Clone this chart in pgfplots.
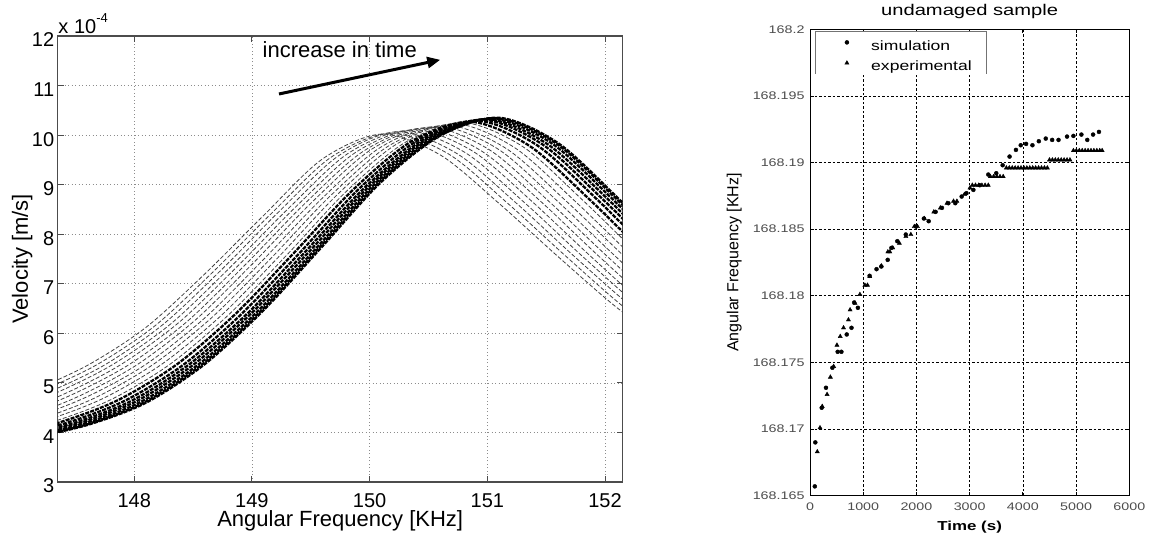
\documentclass[border=0pt]{standalone}
\usepackage{fontspec}
\setmainfont{Liberation Sans}
\newfontfamily\rfont[FakeStretch=1.3]{Liberation Sans}
\usepackage{pgfplots}
\usepackage{pgfplotstable}
\pgfplotsset{compat=1.18}
\usetikzlibrary{arrows.meta}
\pgfplotsset{mylegimg/.style={legend image code/.code={\path[draw=none, fill=none] (0bp,0bp) rectangle (56bp,7bp); \draw[##1, /tikz/only marks] plot coordinates {(31.7bp,3.5bp)};}}}

% right chart: frequency stored as df, f = 168 + df/1000 KHz
\pgfplotstableread{
t df
90 165.7
100 169.0
220 171.6
300 173.1
420 174.6
520 175.8
590 175.8
690 177.1
780 177.6
830 179.5
900 179.1
1120 181.5
1250 182.0
1340 182.2
1460 182.7
1530 183.6
1640 184.1
1800 184.6
1990 185.2
2140 185.8
2230 185.6
2360 186.3
2480 186.6
2600 186.95
2730 186.95
2850 187.45
2940 187.7
3070 187.95
3190 188.3
3350 189.1
3500 189.2
3620 189.8
3750 190.45
3870 190.95
3960 191.3
4060 191.4
4180 191.3
4300 191.6
4430 191.8
4550 191.7
4670 191.7
4830 191.95
4950 192.0
5100 192.1
5210 191.7
5320 192.1
5430 192.3
}\simdata

\pgfplotstableread{
t df
137 168.3
188 170.1
230 171.7
321 172.6
383 173.9
444 174.7
506 176.3
568 176.95
630 177.6
722 178.2
753 178.95
846 179.45
938 180.1
1031 180.8
1080 180.8
1123 181.45
1340 182.25
1463 183.3
1500 183.3
1556 183.6
1679 183.95
1802 184.45
1895 184.6
1960 185.2
2019 185.2
2150 185.8
2327 186.3
2450 186.6
2574 186.95
2697 187.1
2760 187.1
2900 187.6
3006 188.1
3050 188.3
3110 188.3
3170 188.3
3230 188.3
3290 188.3
3350 188.3
3390 188.95
3450 188.95
3510 188.95
3570 188.95
3630 188.95
3690 189.6
3745 189.6
3800 189.6
3855 189.6
3910 189.6
3965 189.6
4020 189.6
4075 189.6
4130 189.6
4185 189.6
4240 189.6
4295 189.6
4350 189.6
4405 189.6
4460 189.6
4500 190.2
4555 190.2
4610 190.2
4665 190.2
4720 190.2
4775 190.2
4830 190.2
4885 190.2
4950 190.9
5005 190.9
5060 190.9
5115 190.9
5170 190.9
5225 190.9
5280 190.9
5335 190.9
5390 190.9
5445 190.9
5490 190.9
}\expdata

\begin{document}
\begin{tikzpicture}
\useasboundingbox (0bp,0bp) rectangle (1156bp,-536bp);

%================ LEFT CHART =================
\begin{axis}[
  at={(57.7bp,-482bp)}, anchor=south west,
  width=565bp, height=446bp, scale only axis,
  clip mode=individual,
  xmin=147.35, xmax=152.15, ymin=3, ymax=12,
  xtick={148,149,150,151,152}, ytick={3,4,...,12},
  grid=major,
  grid style={black!45, dash pattern=on 1bp off 2.5bp, line width=0.7bp},
  axis line style={black!70, line width=1.5bp},
  tick style={black!70, line width=1bp},
  major tick length=6bp, tick align=inside,
  /pgf/number format/assume math mode=true,
  ticklabel style={font=\fontsize{20bp}{24bp}\selectfont},
  xticklabel style={anchor=base, yshift=-25bp},
  yticklabel style={yshift=-4bp},
  xlabel={Angular Frequency [KHz]},
  ylabel={Velocity [m/s]},
  every axis x label/.style={at={(axis description cs:0.5,0)}, anchor=base, yshift=-44.5bp, font=\fontsize{22bp}{26bp}\selectfont},
  every axis y label/.style={at={(axis description cs:-0.0526,0.5)}, rotate=90, anchor=base, font=\fontsize{22bp}{26bp}\selectfont},
  fan/.style={smooth, black!75, line width=0.8bp, dash pattern=on 4bp off 2bp},
  band/.style={smooth, black, line width=2.3bp, dash pattern=on 4bp off 1.2bp},
]
\addplot[fan] coordinates {(146.10,4.06)(146.60,4.36)(147.10,4.81)(147.60,5.35)(148.10,6.12)(148.60,7.20)(149.10,8.38)(149.60,9.52)(150.10,10.02)(150.60,9.60)(151.10,8.62)(151.60,7.55)(152.10,6.52)(152.60,5.66)};
\addplot[fan] coordinates {(146.17,4.05)(146.67,4.35)(147.17,4.80)(147.67,5.35)(148.17,6.14)(148.67,7.24)(149.17,8.43)(149.67,9.55)(150.17,10.04)(150.67,9.62)(151.17,8.63)(151.67,7.55)(152.17,6.51)(152.67,5.65)};
\addplot[fan] coordinates {(146.24,4.03)(146.74,4.33)(147.24,4.78)(147.74,5.35)(148.24,6.17)(148.74,7.28)(149.24,8.48)(149.74,9.59)(150.24,10.07)(150.74,9.63)(151.24,8.64)(151.74,7.55)(152.24,6.51)(152.74,5.64)};
\addplot[fan] coordinates {(146.31,4.02)(146.81,4.32)(147.31,4.77)(147.81,5.36)(148.31,6.19)(148.81,7.32)(149.31,8.52)(149.81,9.62)(150.31,10.09)(150.81,9.65)(151.31,8.65)(151.81,7.55)(152.31,6.50)(152.81,5.62)};
\addplot[fan] coordinates {(146.38,4.01)(146.88,4.30)(147.38,4.75)(147.88,5.36)(148.38,6.22)(148.88,7.36)(149.38,8.57)(149.88,9.65)(150.38,10.11)(150.88,9.67)(151.38,8.66)(151.88,7.55)(152.38,6.49)(152.88,5.61)};
\addplot[fan] coordinates {(146.45,4.00)(146.95,4.29)(147.45,4.74)(147.95,5.36)(148.45,6.24)(148.95,7.40)(149.45,8.62)(149.95,9.68)(150.45,10.14)(150.95,9.68)(151.45,8.67)(151.95,7.55)(152.45,6.49)(152.95,5.60)};
\addplot[fan] coordinates {(146.52,3.98)(147.02,4.27)(147.52,4.72)(148.02,5.36)(148.52,6.27)(149.02,7.44)(149.52,8.67)(150.02,9.72)(150.52,10.16)(151.02,9.70)(151.52,8.67)(152.02,7.55)(152.52,6.48)(153.02,5.59)};
\addplot[fan] coordinates {(146.59,3.97)(147.09,4.26)(147.59,4.71)(148.09,5.36)(148.59,6.29)(149.09,7.47)(149.59,8.71)(150.09,9.75)(150.59,10.18)(151.09,9.72)(151.59,8.68)(152.09,7.55)(152.59,6.47)(153.09,5.58)};
\addplot[fan] coordinates {(146.66,3.96)(147.16,4.24)(147.66,4.69)(148.16,5.37)(148.66,6.32)(149.16,7.51)(149.66,8.76)(150.16,9.78)(150.66,10.20)(151.16,9.73)(151.66,8.69)(152.16,7.56)(152.66,6.46)(153.16,5.56)};
\addplot[fan] coordinates {(146.73,3.95)(147.23,4.23)(147.73,4.68)(148.23,5.37)(148.73,6.34)(149.23,7.55)(149.73,8.81)(150.23,9.82)(150.73,10.23)(151.23,9.75)(151.73,8.70)(152.23,7.56)(152.73,6.46)(153.23,5.55)};
\addplot[fan] coordinates {(146.80,3.93)(147.30,4.21)(147.80,4.66)(148.30,5.37)(148.80,6.37)(149.30,7.59)(149.80,8.86)(150.30,9.85)(150.80,10.25)(151.30,9.77)(151.80,8.71)(152.30,7.56)(152.80,6.45)(153.30,5.54)};
\addplot[band] coordinates {(146.86,3.92)(147.36,4.20)(147.86,4.65)(148.36,5.37)(148.86,6.39)(149.36,7.63)(149.86,8.90)(150.36,9.88)(150.86,10.27)(151.36,9.78)(151.86,8.72)(152.36,7.56)(152.86,6.44)(153.36,5.53)};
\addplot[band] coordinates {(146.92,3.91)(147.42,4.19)(147.92,4.64)(148.42,5.37)(148.92,6.41)(149.42,7.66)(149.92,8.94)(150.42,9.91)(150.92,10.29)(151.42,9.80)(151.92,8.73)(152.42,7.56)(152.92,6.44)(153.42,5.52)};
\addplot[band] coordinates {(146.97,3.90)(147.47,4.18)(147.97,4.63)(148.47,5.38)(148.97,6.42)(149.47,7.69)(149.97,8.97)(150.47,9.93)(150.97,10.31)(151.47,9.81)(151.97,8.73)(152.47,7.56)(152.97,6.43)(153.47,5.51)};
\addplot[band] coordinates {(147.01,3.90)(147.51,4.17)(148.01,4.62)(148.51,5.38)(149.01,6.44)(149.51,7.71)(150.01,9.00)(150.51,9.95)(151.01,10.32)(151.51,9.82)(152.01,8.74)(152.51,7.56)(153.01,6.43)(153.51,5.51)};
\addplot[band] coordinates {(147.05,3.89)(147.55,4.16)(148.05,4.61)(148.55,5.38)(149.05,6.45)(149.55,7.73)(150.05,9.03)(150.55,9.97)(151.05,10.33)(151.55,9.83)(152.05,8.74)(152.55,7.56)(153.05,6.42)(153.55,5.50)};
\addplot[band] coordinates {(147.08,3.88)(147.58,4.15)(148.08,4.60)(148.58,5.38)(149.08,6.46)(149.58,7.75)(150.08,9.05)(150.58,9.98)(151.08,10.34)(151.58,9.84)(152.08,8.75)(152.58,7.56)(153.08,6.42)(153.58,5.49)};
\addplot[band] coordinates {(147.10,3.88)(147.60,4.15)(148.10,4.60)(148.60,5.38)(149.10,6.47)(149.60,7.76)(150.10,9.06)(150.60,9.99)(151.10,10.35)(151.60,9.84)(152.10,8.75)(152.60,7.56)(153.10,6.42)(153.60,5.49)};

\draw[line width=3bp, -{Triangle[length=13bp,width=11bp]}] (axis cs:149.23,10.83) -- (axis cs:150.6,11.52);
\node[anchor=base west, inner sep=0, font=\fontsize{22bp}{26bp}\selectfont] at (axis cs:149.09,11.56) {increase in time};
\node[anchor=base west, inner sep=0, font=\fontsize{20bp}{24bp}\selectfont] at (axis description cs:0.001,1) [yshift=2.7bp] {x 10\raisebox{11bp}{\fontsize{13bp}{15bp}\selectfont -4}};
\end{axis}

%================ RIGHT CHART =================
\begin{axis}[
  at={(810bp,-495.7bp)}, anchor=south west,
  width=319.3bp, height=466.4bp, scale only axis,
  clip mode=individual,
  xmin=0, xmax=6000, ymin=165, ymax=200,
  xtick={0,1000,...,6000}, ytick={165,170,...,200},
  yticklabels={168.165,168.17,168.175,168.18,168.185,168.19,168.195,168.2},
  /pgf/number format/set thousands separator={},
  /pgf/number format/assume math mode=true,
  grid=major,
  grid style={black, dash pattern=on 2.5bp off 2bp, line width=0.7bp},
  axis line style={black, line width=1bp},
  tick style={black, line width=0.8bp},
  major tick length=4bp, tick align=inside,
  ticklabel style={font=\rfont\fontsize{11bp}{13bp}\selectfont, text=black!70},
  xticklabel style={anchor=base, yshift=-14.3bp},
  yticklabel style={xshift=-2bp},
  title={undamaged sample},
  every axis title/.style={at={(axis description cs:0.5,1)}, anchor=base, yshift=14.3bp, font=\rfont\fontsize{15.5bp}{18bp}\selectfont},
  xlabel={Time (s)},
  ylabel={Angular Frequency [KHz]},
  every axis x label/.style={at={(axis description cs:0.5,0)}, anchor=base, yshift=-35bp, font=\rfont\bfseries\fontsize{13bp}{16bp}\selectfont},
  every axis y label/.style={at={(axis description cs:-0.2245,0.5)}, rotate=90, anchor=base, font=\fontsize{16bp}{19bp}\selectfont},
  legend style={at={(axis description cs:0.0157,0.9949)}, anchor=north west, draw=none, fill=none,
    font=\rfont\fontsize{13.5bp}{16bp}\selectfont, inner xsep=0bp, inner ysep=7bp, row sep=8bp,
    nodes={inner sep=0bp}},
  legend cell align=left,
]
\fill[white] (axis description cs:0.0157,0.9042) rectangle (axis description cs:0.5534,0.9949);
\draw[black!55, line width=1bp] (axis description cs:0.0157,0.9042) |- (axis description cs:0.5534,0.9949) -- (axis description cs:0.5534,0.9042);
\addplot[only marks, mark=*, mark size=2bp, black, mylegimg]
  table[x=t, y=df] {\simdata};
\addlegendentry{\makebox[115bp][l]{simulation}}
\addplot[only marks, mark=triangle*, mark size=2.4bp, black, mylegimg]
  table[x=t, y=df] {\expdata};
\addlegendentry{\makebox[115bp][l]{experimental}}
\end{axis}
\end{tikzpicture}
\end{document}
